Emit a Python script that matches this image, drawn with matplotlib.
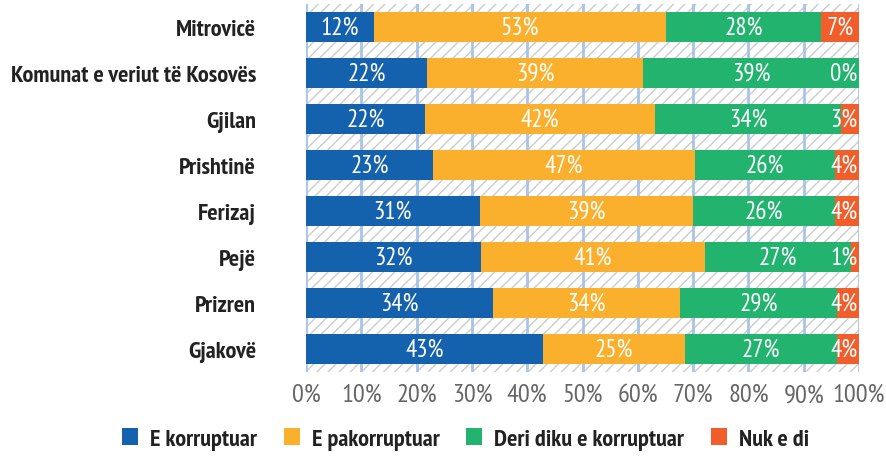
import matplotlib.pyplot as plt
from matplotlib.patches import Patch

# --- data (top row first) ---
regions = ['Mitrovicë', 'Komunat e veriut të Kosovës', 'Gjilan', 'Prishtinë',
           'Ferizaj', 'Pejë', 'Prizren', 'Gjakovë']
korruptuar = [12.3, 21.9, 21.5, 23.0, 31.4, 31.6, 33.8, 42.9]
pakorruptuar = [52.8, 39.0, 41.6, 47.3, 38.6, 40.6, 33.8, 25.6]
deri_diku = [28.1, 39.1, 33.6, 25.4, 25.7, 26.3, 28.4, 27.5]
nuk_e_di = [6.8, 0.0, 3.3, 4.3, 4.3, 1.5, 4.0, 4.0]

lbl_korruptuar = ['12%', '22%', '22%', '23%', '31%', '32%', '34%', '43%']
lbl_pakorruptuar = ['53%', '39%', '42%', '47%', '39%', '41%', '34%', '25%']
lbl_deri_diku = ['28%', '39%', '34%', '26%', '26%', '27%', '29%', '27%']
lbl_nuk_e_di = ['7%', '0%', '3%', '4%', '4%', '1%', '4%', '4%']

series_names = ['E korruptuar', 'E pakorruptuar', 'Deri diku e korruptuar', 'Nuk e di']
colors = ['#1461ae', '#faaf2d', '#22b36f', '#f15e2b']
xticks = [0, 10, 20, 30, 40, 50, 60, 70, 80, 90, 100]

FONT = ['PT Sans Narrow', 'DejaVu Sans']
plt.rcParams['font.family'] = FONT
plt.rcParams['hatch.color'] = '#cccccc'
plt.rcParams['hatch.linewidth'] = 1.0

fig = plt.figure(figsize=(8.87, 4.6), dpi=100)
ax = fig.add_axes([0.345, 0.189, 0.6235, 0.8])

ax.patch.set_facecolor('white')
ax.patch.set_hatch('///')
ax.patch.set_edgecolor('#cccccc')
ax.patch.set_linewidth(0)

y = list(range(len(regions)))
series = [korruptuar, pakorruptuar, deri_diku, nuk_e_di]
labels = [lbl_korruptuar, lbl_pakorruptuar, lbl_deri_diku, lbl_nuk_e_di]
left = [0.0] * len(regions)
for vals, lbls, col in zip(series, labels, colors):
    ax.barh(y, vals, left=left, height=0.65, color=col, zorder=3)
    for i, (v, t) in enumerate(zip(vals, lbls)):
        c = left[i] + v / 2
        # small end segments: keep the label inside the plot area
        if left[i] + v > 99.9 and v < 6:
            ax.text(99.7, i, t, ha='right', va='center', color='white',
                    fontsize=18, zorder=4)
        else:
            ax.text(c, i, t, ha='center', va='center', color='white',
                    fontsize=18, zorder=4)
    left = [l + v for l, v in zip(left, vals)]

ax.set_xlim(0, 100)
ax.set_ylim(len(regions) - 0.5, -0.5)
ax.set_xticks(xticks)
ax.set_xticklabels([f'{t}%' for t in xticks], fontsize=19, color='#666666')
ax.set_yticks(y)
ax.set_yticklabels(regions, fontsize=17.5, fontweight='bold', color='#222222')
ax.tick_params(axis='both', length=0)
ax.tick_params(axis='y', pad=36)
ax.tick_params(axis='x', pad=8)
ax.grid(axis='x', color='#a9c4e8', linewidth=2, zorder=1)
ax.set_axisbelow(True)
for s in ax.spines.values():
    s.set_visible(False)

handles = [Patch(facecolor=c, label=n) for c, n in zip(colors, series_names)]
leg = fig.legend(handles=handles, loc='center', bbox_to_anchor=(0.525, 0.043),
                 ncol=4, frameon=False, handlelength=0.65, handleheight=0.65,
                 handletextpad=0.5, columnspacing=1.1,
                 prop={'family': FONT, 'weight': 'bold', 'size': 17.5})
for t in leg.get_texts():
    t.set_color('#222222')

fig.savefig('out.png', dpi=100)
